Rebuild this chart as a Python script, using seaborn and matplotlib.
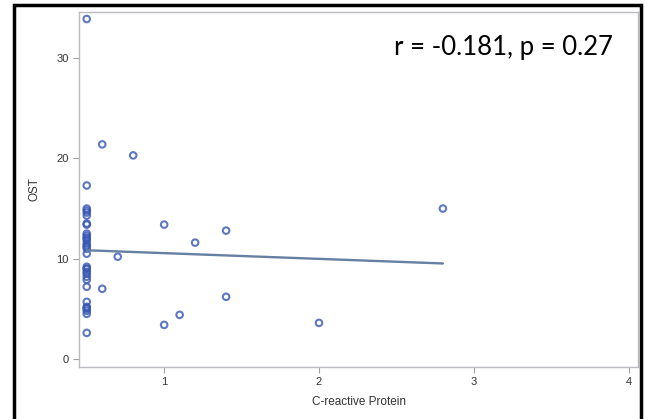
import matplotlib
matplotlib.use("Agg")
import matplotlib.pyplot as plt
import seaborn as sns
from matplotlib.patches import Rectangle

# C-reactive protein vs OST
crp = [0.5] * 33 + [0.6, 0.8, 0.6, 0.7, 1.0, 1.0, 1.1, 1.2, 1.4, 1.4, 2.0, 2.8]
ost = [33.9, 17.3,
       15.0, 14.8, 14.6, 14.3, 13.4,
       12.5, 12.3, 12.0, 11.8, 11.5, 11.2, 11.0, 10.5,
       9.2, 9.0, 8.7, 8.5, 8.2, 7.9, 7.2,
       5.7, 5.2, 5.0, 4.8, 4.5, 2.6,
       11.3, 12.1, 9.0, 5.1, 13.5,
       21.4, 20.3, 7.0, 10.2, 13.4, 3.4, 4.4, 11.6, 12.8, 6.2, 3.6, 15.0]
crp = crp[:len(ost)]

sns.set_style("white")
plt.rcParams["font.family"] = ["Liberation Sans", "DejaVu Sans"]
fig = plt.figure(figsize=(6.46, 4.19), dpi=100)
ax = fig.add_axes([79 / 646, 1 - 367 / 419, (638 - 79) / 646, (367 - 12) / 419])

sns.regplot(x=crp, y=ost, ax=ax, ci=None, truncate=True,
            scatter_kws=dict(marker="o", s=22, facecolors="none",
                             edgecolors="#3658b4", linewidths=1.5),
            line_kws=dict(color="#6580a2", lw=1.7))

ax.set_xlim(0.45, 4.06)
ax.set_ylim(-0.8, 34.6)
ax.set_xticks([1, 2, 3, 4])
ax.set_yticks([0, 10, 20, 30])
ax.tick_params(axis="both", length=4, width=0.8, color="#a0a0a0",
               labelsize=8, labelcolor="#333333", direction="out",
               bottom=True, left=True)
for s in ax.spines.values():
    s.set_color("#b8bcc0")
    s.set_linewidth(1.0)
ax.set_xlabel("C-reactive Protein", fontsize=8.5, color="#333333", labelpad=6)
ax.set_ylabel("OST", fontsize=8.5, color="#333333", labelpad=11)

ax.text(0.955, 0.90, "r = -0.181, p = 0.27", transform=ax.transAxes,
        ha="right", va="center", fontsize=18.5, family="Lato", color="black")

# outer black frame from the slide
fig.patches.append(Rectangle((14 / 646, -0.05), (641 - 14) / 646, 1 - 5 / 419 + 0.05,
                             transform=fig.transFigure, fill=False,
                             edgecolor="black", lw=2.5))

fig.savefig("out.png", dpi=100)
